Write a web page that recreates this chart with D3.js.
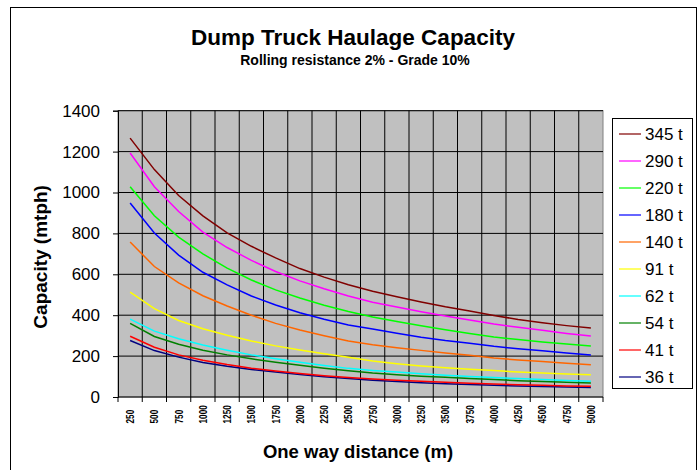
<!DOCTYPE html>
<html lang="en">
<head>
    <title>Dump Truck Haulage Capacity</title>
    <meta charset="UTF-8">
    <script src="https://d3js.org/d3.v7.min.js"></script>
    <style>
        body { margin: 0; background: #fff; }
        text { font-family: "Liberation Sans", Arial, sans-serif; }
    </style>
</head>
<body>
    <script>
        // one way distance (m)
        const distances = [250, 500, 750, 1000, 1250, 1500, 1750, 2000, 2250, 2500,
                           2750, 3000, 3250, 3500, 3750, 4000, 4250, 4500, 4750, 5000];

        const trucks = ["345 t", "290 t", "220 t", "180 t", "140 t", "91 t", "62 t", "54 t", "41 t", "36 t"];
        const colors = ["#800000", "#FF00FF", "#00FF00", "#0000FF", "#FF6600", "#FFFF00", "#00FFFF", "#008000", "#FF0000", "#000080"];

        // capacity (mtph)
        const cap345 = [1266, 1112, 985, 886, 803, 737, 680, 628, 586, 549, 517, 490, 465, 441, 420, 399, 379, 363, 349, 337];
        const cap290 = [1193, 1028, 907, 806, 731, 668, 614, 568, 529, 494, 463, 440, 417, 396, 376, 357, 341, 326, 311, 298];
        const cap220 = [1028, 886, 782, 700, 630, 572, 524, 484, 449, 418, 391, 369, 348, 329, 311, 293, 281, 269, 259, 249];
        const cap180 = [949, 802, 694, 610, 548, 494, 450, 412, 380, 352, 332, 312, 292, 276, 263, 248, 236, 226, 215, 205];
        const cap140 = [758, 638, 558, 495, 445, 400, 360, 328, 300, 274, 256, 241, 228, 215, 204, 191, 181, 173, 165, 158];
        const cap91  = [513, 432, 374, 334, 302, 274, 250, 230, 211, 194, 176, 163, 152, 143, 136, 129, 122, 117, 112, 109];
        const cap62  = [381, 322, 285, 254, 229, 206, 187, 170, 154, 140, 130, 122, 114, 106, 100, 95, 90, 85, 81, 77];
        const cap54  = [360, 296, 258, 229, 206, 187, 170, 155, 141, 128, 117, 109, 102, 96, 90, 85, 80, 76, 72, 68];
        const cap41  = [297, 243, 206, 180, 159, 141, 127, 115, 104, 95, 88, 82, 77, 72, 67, 64, 60, 57, 54, 52];
        const cap36  = [276, 227, 195, 169, 150, 135, 122, 110, 99, 90, 82, 76, 70, 65, 61, 57, 54, 51, 49, 47];

        const yTicks = [0, 200, 400, 600, 800, 1000, 1200, 1400];

        const series = [cap345, cap290, cap220, cap180, cap140, cap91, cap62, cap54, cap41, cap36]
            .map((vals, i) => ({name: trucks[i], color: colors[i], values: vals}));

        const w = 699, h = 470;
        const plot = {left: 118, right: 603, top: 110.7, bottom: 397};

        const svg = d3.select("body")
            .append("svg")
            .attr("width", w)
            .attr("height", h);

        // outer chart frame (bottom edge runs off the page)
        svg.append("rect")
            .attr("x", 10.5).attr("y", 7.5)
            .attr("width", 686).attr("height", 480)
            .attr("fill", "#fff")
            .attr("stroke", "#000");

        const xScale = d3.scaleBand()
            .domain(distances)
            .range([plot.left, plot.right])
            .padding(0);

        const yScale = d3.scaleLinear()
            .domain([0, 1400])
            .range([plot.bottom, plot.top]);

        // plot area
        svg.append("rect")
            .attr("x", plot.left).attr("y", plot.top)
            .attr("width", plot.right - plot.left)
            .attr("height", plot.bottom - plot.top)
            .attr("fill", "#C0C0C0")
            .attr("stroke", "#808080");

        // horizontal gridlines
        svg.append("g")
            .selectAll("line")
            .data(yTicks.slice(1))
            .enter()
            .append("line")
            .attr("x1", plot.left).attr("x2", plot.right)
            .attr("y1", d => yScale(d)).attr("y2", d => yScale(d))
            .attr("stroke", "#000");

        // vertical gridlines at category boundaries
        svg.append("g")
            .selectAll("line")
            .data(distances.slice(1))
            .enter()
            .append("line")
            .attr("x1", d => xScale(d)).attr("x2", d => xScale(d))
            .attr("y1", plot.top).attr("y2", plot.bottom)
            .attr("stroke", "#000");

        // y axis
        const yAxis = d3.axisLeft(yScale).tickValues(yTicks).tickFormat(d3.format("d")).tickSize(5).tickPadding(13);
        const yg = svg.append("g")
            .attr("id", "y-axis")
            .attr("transform", "translate(" + plot.left + ",0)")
            .call(yAxis);
        yg.select(".domain").attr("stroke", "#000");
        yg.selectAll("text")
            .attr("font-size", "17px")
            .attr("font-family", "Liberation Sans, Arial, sans-serif")
            .attr("fill", "#000");

        // x axis: ticks at boundaries, labels at band centres
        const bounds = distances.map(d => xScale(d)).concat([plot.right]);
        const xg = svg.append("g").attr("id", "x-axis");
        xg.append("line")
            .attr("x1", plot.left).attr("x2", plot.right)
            .attr("y1", plot.bottom).attr("y2", plot.bottom)
            .attr("stroke", "#000");
        xg.selectAll("line.tick")
            .data(bounds)
            .enter()
            .append("line")
            .attr("class", "tick")
            .attr("x1", d => d).attr("x2", d => d)
            .attr("y1", plot.bottom).attr("y2", plot.bottom + 5)
            .attr("stroke", "#000");
        xg.selectAll("text")
            .data(distances)
            .enter()
            .append("text")
            .attr("transform", d => "translate(" + (xScale(d) + xScale.bandwidth() / 2 + 4) + ",423.5) rotate(-90) scale(0.75,1)")
            .attr("text-anchor", "start")
            .attr("font-size", "11px")
            .attr("font-weight", "bold")
            .text(d => d);

        // series lines
        const line = d3.line()
            .x((d, i) => xScale(distances[i]) + xScale.bandwidth() / 2)
            .y(d => yScale(d));

        svg.append("g")
            .selectAll("path")
            .data(series.slice().reverse())
            .enter()
            .append("path")
            .attr("d", d => line(d.values))
            .attr("fill", "none")
            .attr("stroke", d => d.color)
            .attr("stroke-width", 1.5);

        // titles
        svg.append("text")
            .attr("x", 353).attr("y", 45)
            .attr("text-anchor", "middle")
            .attr("font-size", "22.5px")
            .attr("font-weight", "bold")
            .text("Dump Truck Haulage Capacity");

        svg.append("text")
            .attr("x", 355).attr("y", 65)
            .attr("text-anchor", "middle")
            .attr("font-size", "14px")
            .attr("font-weight", "bold")
            .text("Rolling resistance 2% - Grade 10%");

        svg.append("text")
            .attr("x", 358).attr("y", 458)
            .attr("text-anchor", "middle")
            .attr("font-size", "18.5px")
            .attr("font-weight", "bold")
            .text("One way distance (m)");

        svg.append("text")
            .attr("transform", "translate(47," + ((plot.top + plot.bottom) / 2 + 3) + ") rotate(-90)")
            .attr("text-anchor", "middle")
            .attr("font-size", "19px")
            .attr("font-weight", "bold")
            .text("Capacity (mtph)");

        // legend
        const legend = svg.append("g").attr("id", "legend");
        legend.append("rect")
            .attr("x", 612.5).attr("y", 118.5)
            .attr("width", 80).attr("height", 270)
            .attr("fill", "#fff")
            .attr("stroke", "#000");

        const items = legend.selectAll("g.item")
            .data(series)
            .enter()
            .append("g")
            .attr("class", "item")
            .attr("transform", (d, i) => "translate(0," + (134 + i * 27) + ")");
        items.append("line")
            .attr("x1", 619).attr("x2", 641)
            .attr("stroke", d => d.color)
            .attr("stroke-width", 2)
            .attr("stroke-opacity", 0.6);
        items.append("text")
            .attr("x", 645)
            .attr("dy", "0.35em")
            .attr("font-size", "17px")
            .text(d => d.name);
    </script>
</body>
</html>
